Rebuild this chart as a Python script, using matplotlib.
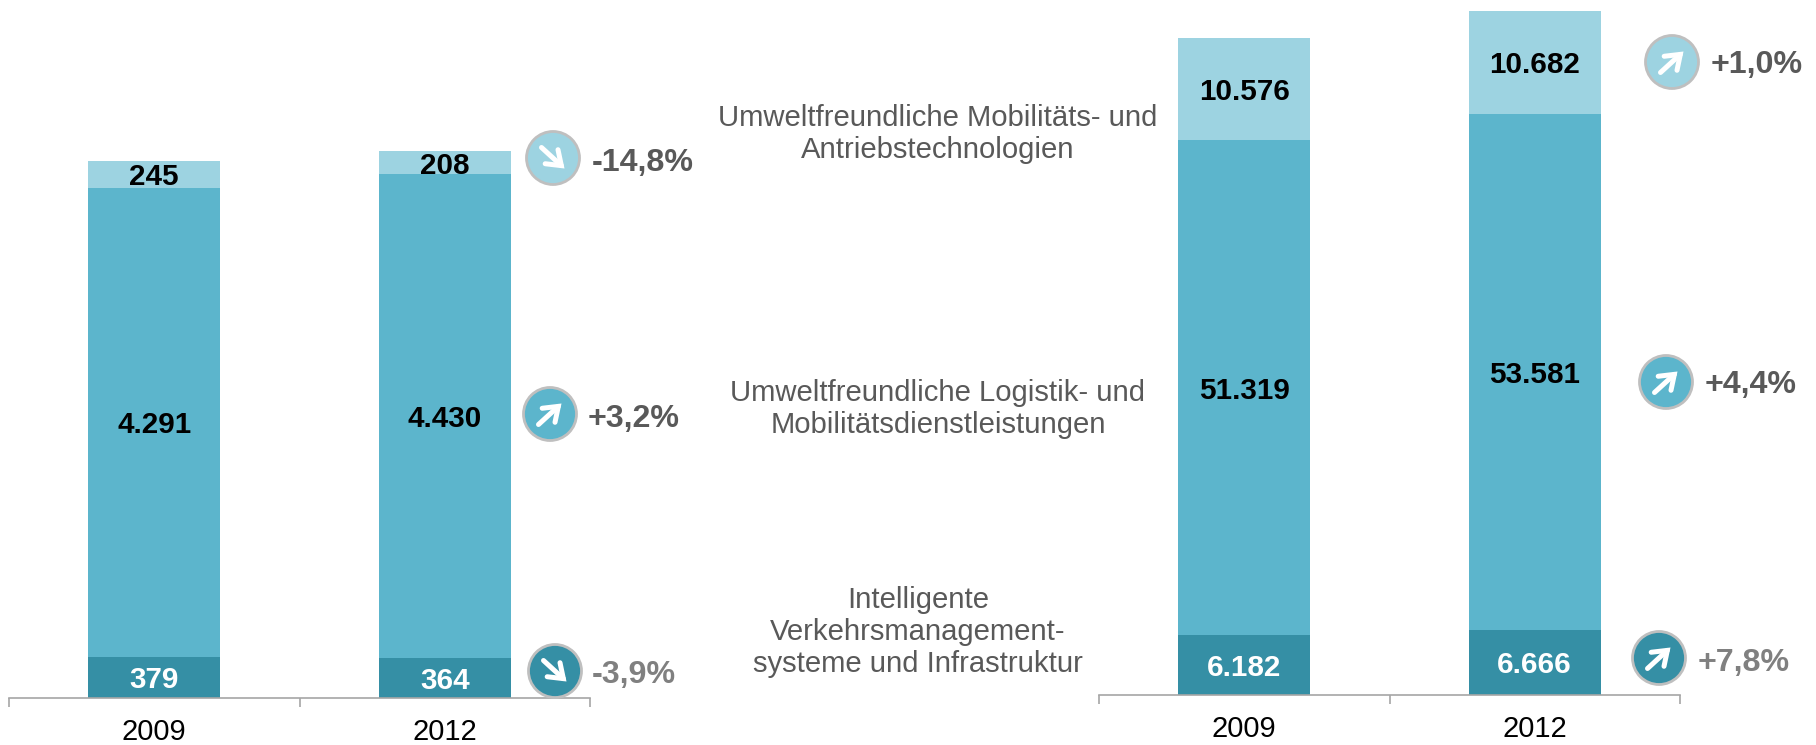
import matplotlib
matplotlib.use("Agg")
import matplotlib.pyplot as plt
from matplotlib.patches import Circle, FancyArrowPatch

plt.rcParams['font.family'] = ['Liberation Sans', 'DejaVu Sans']

W, H = 1816, 745
years = ["2009", "2012"]

left_dark = [379, 364]
left_mid = [4291, 4430]
left_light = [245, 208]
left_labels_dark = ["379", "364"]
left_labels_mid = ["4.291", "4.430"]
left_labels_light = ["245", "208"]

right_dark = [6182, 6666]
right_mid = [51319, 53581]
right_light = [10576, 10682]
right_labels_dark = ["6.182", "6.666"]
right_labels_mid = ["51.319", "53.581"]
right_labels_light = ["10.576", "10.682"]

categories = [
    "Umweltfreundliche Mobilitäts- und\nAntriebstechnologien",
    "Umweltfreundliche Logistik- und\nMobilitätsdienstleistungen",
    "Intelligente\nVerkehrsmanagement-\nsysteme und Infrastruktur",
]
category_pos = [(938, 134), (938, 409), (918, 632)]

LIGHT, MID, DARK = "#9DD3E1", "#5CB5CC", "#358FA5"
changes = [
    ("-14,8%", -1, LIGHT, (553, 158), (592, 159), "#595959"),
    ("+3,2%", 1, MID, (550, 414), (588, 415), "#595959"),
    ("-3,9%", -1, DARK, (555, 671), (592, 672), "#808080"),
    ("+1,0%", 1, LIGHT, (1672, 62), (1711, 62), "#595959"),
    ("+4,4%", 1, MID, (1666, 382), (1705, 382), "#595959"),
    ("+7,8%", 1, DARK, (1659, 658), (1698, 659), "#808080"),
]

fig = plt.figure(figsize=(W / 100, H / 100), dpi=100)


def stacked(x0, x1, base, ymax_px_per_unit, dark, mid, light, ld, lm, ll):
    height = base
    ax = fig.add_axes([x0 / W, (H - base) / H, (x1 - x0) / W, height / H])
    ax.set_xlim(-0.5, 1.5)
    ax.set_ylim(0, height / ymax_px_per_unit)
    xs = [0, 1]
    bw = 0.454
    bottoms_mid = dark
    bottoms_light = [a + b for a, b in zip(dark, mid)]
    ax.bar(xs, dark, bw, color=DARK)
    ax.bar(xs, mid, bw, bottom=bottoms_mid, color=MID)
    ax.bar(xs, light, bw, bottom=bottoms_light, color=LIGHT)
    for i in xs:
        ax.text(i, dark[i] / 2, ld[i], ha="center", va="center_baseline", color="white",
                fontsize=21.3, fontweight="bold")
        ax.text(i, bottoms_mid[i] + mid[i] / 2, lm[i], ha="center", va="center_baseline",
                color="black", fontsize=21.3, fontweight="bold")
        ax.text(i, bottoms_light[i] + light[i] / 2, ll[i], ha="center", va="center_baseline",
                color="black", fontsize=21.3, fontweight="bold")
    for s in ("top", "left", "right"):
        ax.spines[s].set_visible(False)
    ax.spines["bottom"].set_color("#A6A6A6")
    ax.spines["bottom"].set_linewidth(1.2)
    ax.set_yticks([])
    ax.set_xticks([-0.5, 0.5, 1.5])
    ax.set_xticklabels([])
    ax.tick_params(axis="x", length=6.5, width=1.2, color="#A6A6A6")
    ax.set_xticks(xs, minor=True)
    ax.set_xticklabels(years, minor=True, fontsize=21, color="black")
    ax.tick_params(axis="x", which="minor", length=0, pad=14.5)
    ax.patch.set_alpha(0)


stacked(9, 590, 698, 0.1093, left_dark, left_mid, left_light,
        left_labels_dark, left_labels_mid, left_labels_light)
stacked(1099, 1680, 694.5, 0.00964, right_dark, right_mid, right_light,
        right_labels_dark, right_labels_mid, right_labels_light)

ov = fig.add_axes([0, 0, 1, 1])
ov.set_xlim(0, W)
ov.set_ylim(H, 0)
ov.axis("off")
ov.patch.set_alpha(0)

for text, pos in zip(categories, category_pos):
    ov.text(pos[0], pos[1], text, ha="center", va="center", fontsize=21.1,
            color="#595959", linespacing=1.2)

for label, direction, col, c, t, tc in changes:
    ov.add_patch(Circle(c, 26.5, facecolor=col, edgecolor="#BFBFBF", linewidth=2))
    dy = 10.5 * (-direction)
    ov.add_patch(FancyArrowPatch((c[0] - 11.5, c[1] - dy), (c[0] + 11.5, c[1] + dy),
                                 arrowstyle="->,head_length=5,head_width=3.6",
                                 mutation_scale=1.9, color="white", linewidth=3.6,
                                 capstyle="round", joinstyle="miter",
                                 shrinkA=0, shrinkB=0))
    ov.text(t[0], t[1], label, ha="left", va="center_baseline", fontsize=23.2,
            fontweight="bold", color=tc)

fig.savefig("out.png", dpi=100)
